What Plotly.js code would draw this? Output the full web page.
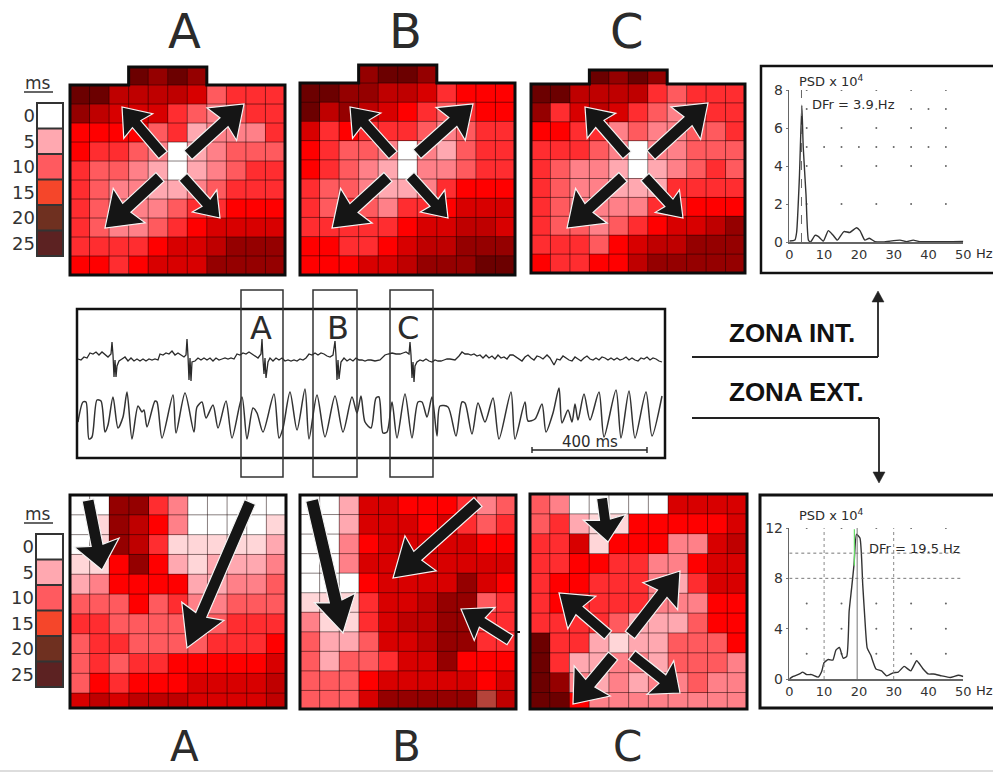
<!DOCTYPE html>
<html><head><meta charset="utf-8">
<script src="https://cdn.plot.ly/plotly-3.0.1.min.js"></script>
<style>html,body{margin:0;padding:0;background:#fff}#g{width:993px;height:772px}</style>
</head><body><div id="g"></div>
<script>
const _ = null;
// activation-time level of every electrode cell (top row first)
const topA = [
 [_,_,_,10,9,10,9,_,_,_,_],
 [10,10,8,8,8,8,7,4,5,5,5],
 [9,8,7,7,7,5,4,3,4,5,5],
 [6,6,6,6,4,5,2,3,3,3,5],
 [6,5,5,4,3,0,2,3,4,4,4],
 [5,4,4,3,2,0,2,3,4,5,5],
 [5,4,3,3,2,2,3,4,5,5,5],
 [5,4,3,3,3,4,5,5,6,6,6],
 [5,4,3,3,4,5,6,7,7,7,7],
 [5,5,5,5,6,7,7,8,9,9,9],
 [6,6,5,6,7,7,7,9,9,9,9]];
const topB = [
 [_,_,_,9,10,10,9,_,_,_,_],
 [10,10,9,9,8,8,7,5,6,6,6],
 [10,8,9,8,7,6,5,4,5,6,6],
 [7,5,6,5,5,5,4,3,4,5,5],
 [6,5,4,4,3,0,3,2,4,5,5],
 [6,5,4,3,2,0,3,3,4,5,5],
 [5,4,4,3,2,2,3,5,6,6,6],
 [5,4,5,4,3,5,5,6,7,7,7],
 [5,5,5,5,5,6,7,7,8,8,7],
 [6,6,5,5,6,7,8,8,9,9,9],
 [6,6,6,7,7,8,9,9,9,10,10]];
const topC = [
 [_,_,_,10,9,10,9,_,_,_,_],
 [10,10,8,8,8,8,5,4,5,5,5],
 [9,5,7,8,7,5,4,3,4,5,5],
 [6,6,5,5,3,4,3,3,4,4,5],
 [5,5,5,4,3,0,3,3,4,4,4],
 [5,4,3,3,2,0,2,3,4,5,4],
 [5,4,3,3,2,2,2,5,5,5,5],
 [5,4,3,3,3,3,5,5,6,6,6],
 [5,4,4,3,4,5,6,7,7,8,9],
 [5,5,5,4,6,7,8,8,9,9,9],
 [6,5,5,6,6,8,9,9,9,9,9]];
const botA = [
 [0,0,9,9,5,3,0,0,0,0,0],
 [0,1,9,8,6,3,0,0,0,0,1],
 [0,1,9,8,5,1,1,1,1,1,2],
 [1,1,6,9,6,2,1,2,2,2,3],
 [2,3,6,6,6,6,2,2,3,3,4],
 [4,4,4,6,4,5,3,3,4,4,4],
 [5,5,4,4,4,4,3,4,5,5,5],
 [4,5,5,4,4,4,4,5,5,5,6],
 [4,5,4,5,5,6,6,6,6,6,7],
 [4,6,5,6,6,6,7,7,7,7,8],
 [7,8,7,8,8,8,7,7,7,7,8]];
const botB = [
 [0,0,2,7,7,6,6,6,5,3,4],
 [0,0,2,7,7,7,6,7,5,4,5],
 [0,0,3,6,7,7,7,7,7,6,6],
 [0,0,3,7,7,7,7,7,7,7,7],
 [0,0,0,6,7,7,7,7,9,7,6],
 [1,1,1,5,7,7,8,9,9,4,5],
 [3,1,1,5,7,8,8,9,9,5,5],
 [4,2,2,4,7,7,8,9,9,5,5],
 [4,2,4,4,5,7,7,9,6,6,6],
 [4,4,4,6,7,7,7,7,7,6,7],
 [4,4,4,7,9,9,9,9,9,11,8]];
const botC = [
 [4,3,0,0,0,0,0,7,7,7,7],
 [4,5,2,1,1,6,6,6,6,6,7],
 [5,5,7,1,6,6,6,3,3,7,8],
 [5,5,6,6,5,5,3,3,6,7,7],
 [5,6,6,5,5,5,3,2,5,7,7],
 [5,6,5,5,5,5,3,3,3,6,6],
 [5,5,5,5,4,2,2,2,4,6,6],
 [10,5,5,2,1,2,2,4,4,4,6],
 [10,5,2,2,3,3,2,4,4,4,3],
 [10,9,3,2,3,2,3,3,4,3,3],
 [10,10,6,3,3,3,3,3,3,3,3]];
const levelColors = ['#ffffff','#ffd6d8','#ffa8b0','#ff8088','#ff5a5e','#ff2d30','#ff0000','#d80000','#bf0000','#950000','#6c0000','#b5433a'];
const legendMs = ['0','5','10','15','20','25'];
const legendColors = ['#ffffff','#ffa8b0','#ff5a5f','#f5462a','#6f3020','#5c2222'];

// electrograms: sample index and amplitude (arbitrary units)
const upperT = [1,4,7,10,13,16,19,22,25,28,31,34,35,36,37,38,39,40,42,45,48,51,54,57,60,63,66,69,72,75,78,81,83,86,89,92,95,98,101,104,107,109,110,111,112,113,114,115,118,121,124,127,130,133,136,139,142,145,148,151,154,157,160,163,166,169,172,175,178,181,184,185,186,187,188,189,191,193,196,199,202,205,208,211,214,217,220,223,226,229,232,235,238,241,244,247,250,253,256,258,259,260,261,262,264,267,270,273,276,279,282,285,288,291,294,298,303,308,311,315,319,323,326,329,332,333,334,335,336,337,338,340,343,346,349,352,355,358,361,364,367,370,373,378,382,385,388,391,394,397,400,403,406,409,412,415,418,421,424,427,430,433,436,439,442,445,448,451,454,457,460,463,466,470,473,477,480,483,486,489,492,495,498,501,504,507,510,513,516,519,522,525,528,531,534,537,540,543,546,549,552,555,558,561,564,567,570,573,576,579,582,585];
const upperA = [41,40,43,42,47,46,48,45,48,45,43,46,58,45,23,40,23,34,39,41,43,39,42,39,41,39,41,39,41,40,41,40,46,45,47,46,49,45,47,45,43,45,61,44,20,42,19,38,39,42,40,42,40,42,39,42,40,41,42,41,42,41,46,45,47,46,48,46,44,42,46,61,40,26,42,22,38,42,39,42,40,42,39,40,39,40,39,41,40,42,46,45,47,45,47,46,44,43,45,59,44,20,40,21,38,42,39,41,39,42,40,40,39,40,40,39,40,45,46,47,46,46,47,48,46,58,45,22,38,18,34,38,40,39,41,39,38,40,39,39,40,41,41,40,44,48,46,46,45,46,44,45,42,45,42,44,41,45,42,43,41,45,45,43,41,39,43,45,42,40,44,43,41,45,42,35,41,40,44,42,40,39,43,41,39,42,44,41,40,42,40,43,42,40,42,40,42,40,41,43,40,42,40,39,42,41,43,40,42,41,39,38];
const lowerT = [1,6,9,12,15,20,24,28,31,36,41,46,50,55,61,65,67,70,78,80,85,96,99,108,117,120,125,129,136,141,149,155,165,170,176,180,186,197,202,206,213,220,228,232,240,248,258,266,275,280,284,288,294,299,302,306,310,315,320,328,335,341,345,350,355,360,363,371,379,385,388,395,401,408,416,422,434,438,448,451,458,465,469,476,482,485,491,495,498,501,507,513,522,527,539,544,552,558,569,575,585];
const lowerA = [18,38,38,1,3,40,39,8,15,43,12,23,48,1,34,28,30,13,39,38,2,45,7,47,8,33,38,22,35,12,39,2,43,1,32,27,8,46,2,12,48,10,51,1,45,3,44,8,43,27,44,18,12,42,43,7,8,38,2,46,2,38,38,23,43,4,34,33,4,38,37,6,37,18,42,1,48,1,38,19,21,36,8,27,52,17,30,18,36,20,46,20,48,3,50,2,49,2,48,4,44];
const scaleBarT = [455,570];

// power spectra
const psdIntHz = [0,1.6,2.1,2.9,3.6,4,4.8,5.5,6.1,7.4,8.3,9.8,11.2,12.6,13.8,15.7,17.4,19.3,20.3,21.7,23,24.6,27,31.8,33.7,35.6,37.5,50];
const psdIntP  = [0.05,0.1,0.5,3.4,7.2,5,2.5,0.1,0,0.35,0.3,0.05,0.6,0.35,0.1,0.55,0.5,0.75,0.6,0.1,0.2,0.02,0,0.1,0.02,0.1,0.02,0.03];
const psdExtHz = [0,1.1,3.1,3.8,5,6.4,8.3,9.3,10,11.2,12.5,13.4,14.4,15.5,16.5,17.2,17.9,18.6,19.3,20.3,21.1,21.7,22.4,23.4,24.9,26.5,28,29.9,31.3,33,34.9,36.6,38.3,39.9,41.4,43.8,46.2,48.6,50];
const psdExtP  = [0,0.2,0.42,0.55,0.35,0.35,0.15,0.6,1.3,1.55,1.5,2.3,2.5,1.65,1.8,5.4,7.2,9.1,11.5,11.2,7.5,4.85,2.45,1.9,0.8,0.65,0.25,0.5,0.55,1,0.65,1.45,0.85,0.4,0.4,0.25,0.12,0.3,0.2];
const intTicksHz = [0,10,20,30,40,50];
const intTicksP = [0,2,4,6,8];
const extTicksP = [0,4,8,12];
const intDotsHz = [5,15,25,35,45,5,15,25,35,45,5,15,25,35,45,5,15,25,35,45,5,10,15,20,25,30,35,40,45,5,25,35,40,45];
const intDotsP  = [2,2,2,2,2,4,4,4,4,4,6,6,6,6,6,8,8,8,8,8,5,5,5,5,5,5,5,5,5,7,7,7,7,7];
const extDotsHz = [5,15,25,35,45,5,15,25,35,45,5,15,25,35,45,5,15,25,35,45];
const extDotsP  = [2,2,2,2,2,4,4,4,4,4,6,6,6,6,6,12,12,12,12,12];

// ---------- layout helpers ----------
const W = 993, H = 772, FONT = '"DejaVu Sans",sans-serif';
const fx = x => x / W, fy = y => 1 - y / H;
const P = (x, y) => fx(x).toFixed(5) + ',' + fy(y).toFixed(5);
const traces = [], shapes = [], annotations = [], layout = {};
let axN = 0;
function addAxes(x0, x1, y0, y1, xo, yo) {
  axN++;
  const s = axN === 1 ? '' : axN;
  layout['xaxis' + s] = Object.assign({domain: [fx(x0), fx(x1)], anchor: 'y' + s, visible: false, fixedrange: true}, xo);
  layout['yaxis' + s] = Object.assign({domain: [fy(y1), fy(y0)], anchor: 'x' + s, visible: false, fixedrange: true}, yo);
  return {x: 'x' + s, y: 'y' + s};
}
function text(t, x, y, size, o) {
  annotations.push(Object.assign({text: t, xref: 'paper', yref: 'paper', x: fx(x), y: fy(y), showarrow: false, borderpad: 0,
    font: {size: size, family: FONT, color: '#2b2b2b'}, xanchor: 'center', yanchor: 'middle'}, o || {}));
}
function seg(x0, y0, x1, y1, w, c) {
  shapes.push({type: 'line', xref: 'paper', yref: 'paper', x0: fx(x0), y0: fy(y0), x1: fx(x1), y1: fy(y1), line: {width: w, color: c}});
}
function path(d, w, c, fill) {
  shapes.push({type: 'path', xref: 'paper', yref: 'paper', path: d, line: {width: w, color: c}, fillcolor: fill || 'rgba(0,0,0,0)'});
}
function rect(x0, y0, x1, y1, w, c) {
  path('M' + P(x0, y0) + 'L' + P(x1, y0) + 'L' + P(x1, y1) + 'L' + P(x0, y1) + 'Z', w, c);
}
const stepScale = cols => {
  const out = [];
  cols.forEach((c, i) => { out.push([i / cols.length, c]); out.push([(i + 1) / cols.length, c]); });
  return out;
};

// ---------- electrode maps ----------
function heat(z, x0, x1, y0, y1, firstRow, lastRow, tab) {
  const heights = z.map((r, i) => i === 0 ? firstRow : i === z.length - 1 ? lastRow : 1);
  const edges = [0];
  heights.forEach(h => edges.push(edges[edges.length - 1] + h));
  const total = edges[edges.length - 1];
  const cols = z[0].length;
  const a = addAxes(x0, x1, y0, y1, {range: [0, cols]}, {range: [total, 0]});
  traces.push({type: 'heatmap', z: z, x: Array.from({length: cols + 1}, (_, i) => i), y: edges,
    xaxis: a.x, yaxis: a.y, colorscale: stepScale(levelColors), zmin: -0.5, zmax: 11.5, showscale: false, hoverinfo: 'skip'});
  const px = c => x0 + (x1 - x0) * c / cols, py = v => y0 + (y1 - y0) * v / total;
  const gc = 'rgba(20,0,0,0.5)';
  const start = tab ? 1 : 0;
  for (let c = 1; c < cols; c++) {
    const inTab = tab && c > 3 && c < 7;
    seg(px(c), py(inTab ? 0 : edges[start]), px(c), y1, 1, gc);
  }
  for (let r = start + 1; r < edges.length - 1; r++) seg(x0, py(edges[r]), x1, py(edges[r]), 1, gc);
  if (tab) {
    seg(px(3), py(edges[1]), px(7), py(edges[1]), 1, gc);
    const m = py(edges[1]);
    path('M' + P(x0, m) + 'L' + P(px(3), m) + 'L' + P(px(3), y0) + 'L' + P(px(7), y0) + 'L' + P(px(7), m) +
         'L' + P(x1, m) + 'L' + P(x1, y1) + 'L' + P(x0, y1) + 'Z', 3, '#0c0c0c');
  } else rect(x0, y0, x1, y1, 3, '#0c0c0c');
}
heat(topA, 70, 285, 67, 275, 0.95, 1, true);
heat(topB, 300, 515, 65, 275, 0.94, 1, true);
heat(topC, 531, 745, 70, 273, 0.74, 1, true);
heat(botA, 70, 286, 495, 708, 1, 0.75, false);
heat(botB, 300, 516, 495, 709, 1, 0.95, false);
heat(botC, 530, 747, 494, 709, 1, 0.83, false);

// ---------- ms legends ----------
function legend(x0, x1, y0, y1, msY) {
  const a = addAxes(x0, x1, y0, y1, {range: [-0.5, 0.5]}, {
    visible: true, type: 'category', range: [5.5, -0.5], showgrid: false, zeroline: false, showline: false, ticks: '',
    ticklabelstandoff: 1, tickmode: 'array', tickvals: legendMs, ticktext: legendMs, tickfont: {size: 18, family: FONT, color: '#333'}});
  traces.push({type: 'heatmap', z: legendMs.map((m, i) => [i]), x: [0], y: legendMs, xaxis: a.x, yaxis: a.y,
    colorscale: stepScale(legendColors), zmin: -0.5, zmax: 5.5, showscale: false, hoverinfo: 'skip'});
  const h = (y1 - y0) / 6;
  for (let i = 1; i < 6; i++) seg(x0, y0 + h * i, x1, y0 + h * i, 2, '#333');
  rect(x0, y0, x1, y1, 2, '#333');
  text('ms', 38, msY, 17, {font: {size: 17, family: FONT, color: '#333'}});
  seg(24, msY + 9, 53, msY + 9, 1.5, '#333');
}
legend(37, 63, 103, 256, 83);
legend(36, 63, 534, 687, 514);

// ---------- electrograms ----------
const eg = addAxes(77, 665, 309, 458, {range: [0, 588]}, {range: [-58, 91]});
const eg2y = 'y' + (axN + 1);
layout['yaxis' + (axN + 1)] = {domain: layout['yaxis' + axN].domain, anchor: eg.x, overlaying: eg.y, visible: false, range: [-18, 131], fixedrange: true};
traces.push({type: 'scatter', mode: 'lines', x: upperT, y: upperA, xaxis: eg.x, yaxis: eg.y, line: {color: '#2a2a2a', width: 1.3}, hoverinfo: 'skip'});
traces.push({type: 'scatter', mode: 'lines', x: lowerT, y: lowerA, xaxis: eg.x, yaxis: eg2y, line: {color: '#333', width: 1.5, shape: 'spline', smoothing: 0.75}, hoverinfo: 'skip'});
traces.push({type: 'scatter', mode: 'lines', x: [scaleBarT[0], scaleBarT[0], null, scaleBarT[0], scaleBarT[1], null, scaleBarT[1], scaleBarT[1]],
  y: [-7, -13, null, -10, -10, null, -7, -13], xaxis: eg.x, yaxis: eg2y, line: {color: '#222', width: 1.4}, hoverinfo: 'skip'});
axN++; // second electrogram y axis consumes a slot
rect(77, 309, 665, 458, 2.5, '#111');
rect(241, 290, 283, 477, 1.5, '#333');
rect(313, 290, 357, 477, 1.5, '#333');
rect(390, 290, 433, 477, 1.5, '#333');
text('A', 261, 328, 32);
text('B', 338, 328, 32);
text('C', 408, 328, 32);
text('400 ms', 590, 442, 15);

// ---------- spectra ----------
function psd(hz, p, yMax, ticksP, y0, y1, dotsX, dotsY) {
  const a = addAxes(789.3, 963.3, y0, y1, {
    visible: true, range: [0, 50], showgrid: false, zeroline: false, showline: true, linecolor: '#666', linewidth: 1.5,
    ticks: '', tickmode: 'array', tickvals: intTicksHz, ticktext: intTicksHz.map(String), tickfont: {size: 13, family: FONT, color: '#333'}
  }, {
    visible: true, range: [0, yMax], showgrid: false, zeroline: false, showline: true, linecolor: '#666', linewidth: 1.5,
    ticks: 'outside', ticklen: 2, tickcolor: '#777', tickmode: 'array', tickvals: ticksP, ticktext: ticksP.map(String),
    tickfont: {size: 14, family: FONT, color: '#333'}
  });
  traces.push({type: 'scatter', mode: 'markers', x: dotsX, y: dotsY, xaxis: a.x, yaxis: a.y, marker: {size: 2, color: '#666'}, hoverinfo: 'skip'});
  traces.push({type: 'scatter', mode: 'lines', x: hz, y: p, xaxis: a.x, yaxis: a.y, line: {color: '#333', width: 1.4, shape: 'spline', smoothing: 0.5}, hoverinfo: 'skip'});
  return a;
}
const pi = psd(psdIntHz, psdIntP, 8, intTicksP, 90, 242, intDotsHz, intDotsP);
traces.push({type: 'scatter', mode: 'lines', x: [3.5, 3.5], y: [0, 8], xaxis: pi.x, yaxis: pi.y, line: {color: '#666', width: 1, dash: 'dash'}, hoverinfo: 'skip'});
const pe = psd(psdExtHz, psdExtP, 12, extTicksP, 528, 679, extDotsHz, extDotsP);
[8, 10].forEach(v => traces.push({type: 'scatter', mode: 'lines', x: [0, 50], y: [v, v], xaxis: pe.x, yaxis: pe.y, line: {color: '#777', width: 1, dash: 'dot'}, hoverinfo: 'skip'}));
[10, 30].forEach(v => traces.push({type: 'scatter', mode: 'lines', x: [v, v], y: [0, 12], xaxis: pe.x, yaxis: pe.y, line: {color: '#888', width: 1, dash: 'dot'}, hoverinfo: 'skip'}));
traces.push({type: 'scatter', mode: 'lines', x: [19.5, 19.5], y: [0, 12], xaxis: pe.x, yaxis: pe.y, line: {color: '#777', width: 1}, hoverinfo: 'skip'});
traces.push({type: 'scatter', mode: 'lines', x: [18.7, 18.7], y: [9, 11.9], xaxis: pe.x, yaxis: pe.y, line: {color: '#66dd66', width: 1.2}, hoverinfo: 'skip'});
path('M' + P(994, 66) + 'L' + P(761, 66) + 'L' + P(761, 273) + 'L' + P(994, 273), 2.5, '#111');
path('M' + P(994, 495) + 'L' + P(760, 495) + 'L' + P(760, 708) + 'L' + P(994, 708), 3, '#111');
text('PSD x 10<sup>4</sup>', 798, 81, 13, {xanchor: 'left'});
text('DFr = 3.9 Hz', 811, 104, 13, {xanchor: 'left'});
text('Hz', 975, 253, 13, {xanchor: 'left'});
text('PSD x 10<sup>4</sup>', 798, 515, 13, {xanchor: 'left'});
text('DFr = 19.5 Hz', 868, 548, 13, {xanchor: 'left'});
text('Hz', 975, 690, 13, {xanchor: 'left'});

// ---------- zone connectors ----------
const BOLD = {size: 26, family: '"Liberation Sans",Arial,sans-serif', color: '#111'};
text('<b>ZONA INT.</b>', 728, 333, 26, {xanchor: 'left', font: BOLD});
text('<b>ZONA EXT.</b>', 728, 392, 26, {xanchor: 'left', font: BOLD});
seg(692, 357, 878, 357, 2, '#222');
seg(878, 357, 878, 298, 1.8, '#222');
path('M' + P(878, 291) + 'L' + P(872, 302) + 'L' + P(884, 302) + 'Z', 0.5, '#222', '#222');
seg(692, 418, 879, 418, 2, '#222');
seg(879, 418, 879, 476, 1.8, '#222');
path('M' + P(879, 483) + 'L' + P(873, 472) + 'L' + P(885, 472) + 'Z', 0.5, '#222', '#222');

// ---------- propagation arrows ----------
function arrow(x0, y0, x1, y1, sw, hw, hl) {
  const L = Math.hypot(x1 - x0, y1 - y0), dx = (x1 - x0) / L, dy = (y1 - y0) / L, nx = -dy, ny = dx;
  const bx = x1 - dx * hl, by = y1 - dy * hl, nk = hl * 0.1;
  const pts = [[x0 + nx * sw / 2, y0 + ny * sw / 2], [bx + dx * nk + nx * sw / 2, by + dy * nk + ny * sw / 2], [bx + nx * hw / 2, by + ny * hw / 2], [x1, y1],
    [bx - nx * hw / 2, by - ny * hw / 2], [bx + dx * nk - nx * sw / 2, by + dy * nk - ny * sw / 2], [x0 - nx * sw / 2, y0 - ny * sw / 2]];
  path('M' + pts.map(p => P(p[0], p[1])).join('L') + 'Z', 1.2, '#f4f4f4', '#151515');
}
[[163,155,122,107,11,38,25],[188,155,244,104,12,44,30],[160,177,105,228,12,47,33],[183,177,220,218,11,33,23],
 [393,155,350,107,11,38,25],[417,154,473,104,12,44,30],[388,177,332,228,12,47,33],[410,176,448,218,11,33,23],
 [627,155,585,107,11,38,25],[651,155,708,103,12,44,30],[623,177,567,228,12,47,33],[645,177,683,218,11,33,23],
 [88,500,102,570,12,46,28],[250,502,187,648,12,46,40],
 [312,500,343,633,13,42,36],[478,502,393,578,12,47,37],[510,640,461,609,11,39,28],
 [602,498,608,542,11,43,25],[630,635,680,571,12,44,32],[608,635,559,593,11,43,30],[613,656,573,704,12,47,30],[632,655,680,693,11,43,25]
].forEach(a => arrow.apply(null, a));
seg(515, 632, 520, 632, 2, '#111');

// ---------- panel letters ----------
[['A',184,31],['B',405,31],['C',627,31]].forEach(l => text(l[0], l[1], l[2], 48));
[['A',184,746],['B',406,746],['C',627,746]].forEach(l => text(l[0], l[1], l[2], 42));
seg(0, 771, 993, 771, 1, '#bbb');

Object.assign(layout, {width: W, height: H, margin: {l: 0, r: 0, t: 0, b: 0}, paper_bgcolor: '#fff', plot_bgcolor: 'rgba(0,0,0,0)',
  showlegend: false, shapes: shapes, annotations: annotations, hovermode: false});
Plotly.newPlot('g', traces, layout, {staticPlot: true, displayModeBar: false});
</script></body></html>
